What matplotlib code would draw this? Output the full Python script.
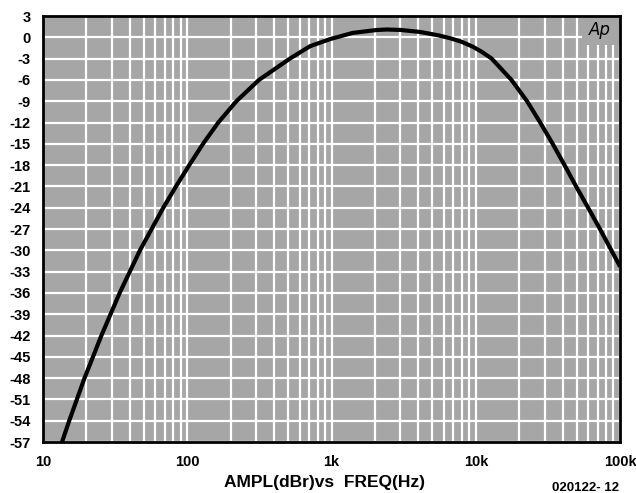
import numpy as np
import matplotlib
matplotlib.use("Agg")
import matplotlib.pyplot as plt
from matplotlib.ticker import FixedLocator, NullFormatter
from matplotlib.patches import Rectangle

# response: frequency (Hz) vs level (dBr)
freq_hz = [13.55, 15.2, 19.4, 25.4, 34.0, 47.0, 68.2, 83.5, 103.2, 128.5, 164, 219,
           314, 514, 710, 977, 1400, 2056, 2415, 3000, 4100, 5500, 6620, 8000,
           9500, 11000, 12880, 17660, 22650, 27940, 34080, 41200, 49550, 60000,
           72500, 100000]
ampl_dbr = [-57.0, -54.0, -48.0, -42.0, -36.0, -30.0, -24.0, -21.0, -18.0, -15.0, -12.0, -9.0,
            -6.0, -3.0, -1.25, -0.25, 0.62, 1.03, 1.1, 1.04, 0.76, 0.28, -0.12, -0.64,
            -1.31, -2.04, -3.0, -6.0, -9.0, -12.0, -15.0, -18.0, -21.0, -24.0,
            -27.0, -32.3]

y_ticks = list(range(3, -58, -3))
x_ticks = [10, 100, 1000, 10000, 100000]
x_labels = ['10', '100', '1k', '10k', '100k']

plt.rcParams['font.family'] = ['Liberation Sans Narrow', 'Liberation Sans', 'DejaVu Sans']
plt.rcParams['font.weight'] = 'bold'

fig = plt.figure(figsize=(6.36, 4.93), dpi=100)
ax = fig.add_axes([0.0676, 0.1034, 0.9074, 0.8641])
ax.set_facecolor('#a6a6a6')

ax.set_xscale('log')
ax.set_xlim(10, 100000)
ax.set_ylim(-57, 3)

# grid: decades + 2..9 minor, every 3 dB horizontal
minors = [m * 10 ** d for d in range(1, 5) for m in range(2, 10)]
ax.xaxis.set_minor_locator(FixedLocator(minors))
ax.xaxis.set_minor_formatter(NullFormatter())
ax.set_xticks(x_ticks)
ax.set_xticklabels(x_labels)
ax.set_yticks(y_ticks)
ax.set_yticklabels([str(t) for t in y_ticks])
ax.grid(True, which='both', color='white', linewidth=1.6)
ax.set_axisbelow(True)
ax.tick_params(which='both', length=0, labelsize=10.5)
ax.tick_params(axis='y', pad=9)
ax.tick_params(axis='x', pad=9)

for s in ax.spines.values():
    s.set_linewidth(2)
    s.set_color('black')

ax.plot(freq_hz, ampl_dbr, color='black', linewidth=3, solid_capstyle='butt',
        solid_joinstyle='round', zorder=3)

# Ap logo patch covering the grid in the corner
ax.add_patch(Rectangle((0.934, 0.932), 0.066, 0.068, transform=ax.transAxes,
                       facecolor='#a6a6a6', edgecolor='none', zorder=1))
ax.text(0.965, 0.967, 'Ap', transform=ax.transAxes, ha='center', va='center',
        fontsize=12, style='italic', fontweight='normal', family='DejaVu Sans', zorder=4)

fig.text(0.511, 0.0203, 'AMPL(dBr)vs  FREQ(Hz)', ha='center', va='center', fontsize=12.5)
fig.text(0.921, 0.0101, '020122- 12', ha='center', va='center', fontsize=9.5)

fig.savefig('out.png', dpi=100, facecolor='white')
